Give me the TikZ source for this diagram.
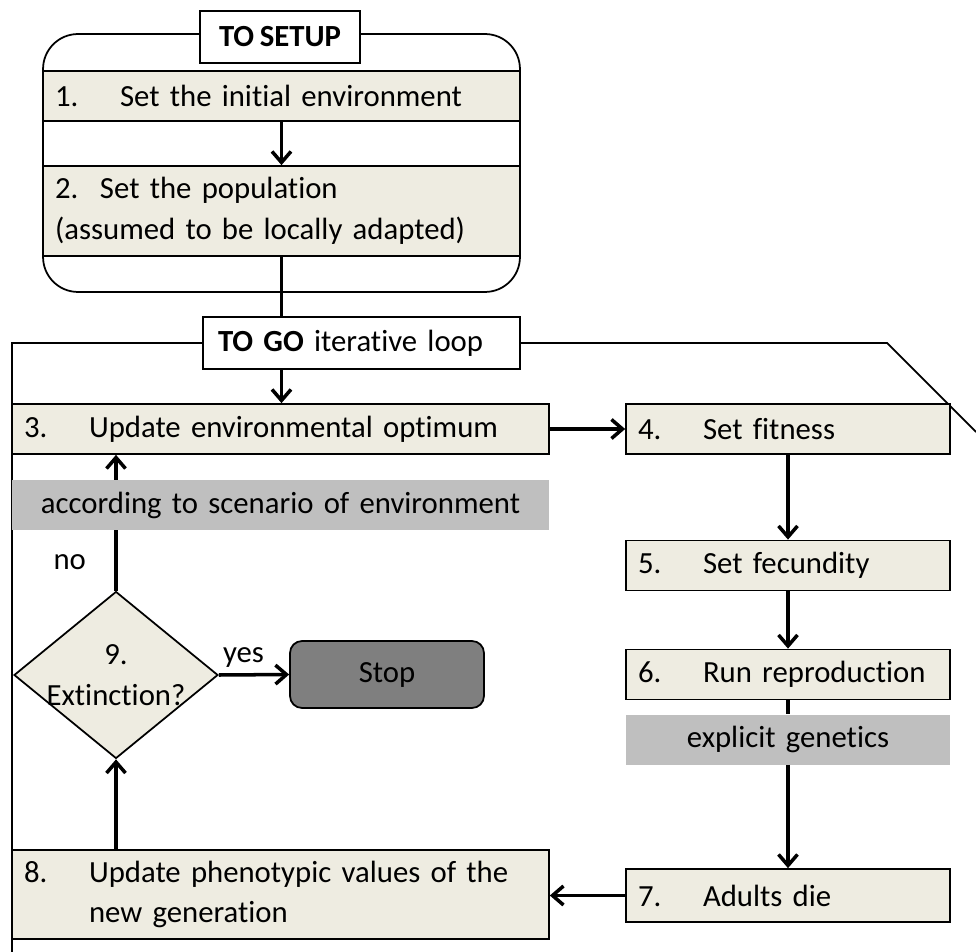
\documentclass[tikz,border=0pt]{standalone}
\usepackage{fontspec}
\setmainfont{Carlito}[Ligatures=NoCommon,WordSpace=0.8]
\usetikzlibrary{shapes.geometric,arrows.meta}

\definecolor{stepfill}{HTML}{EEECE1}
\definecolor{notegray}{HTML}{BFBFBF}
\definecolor{stopgray}{HTML}{7F7F7F}

\newcommand{\stepno}[2][1.3cm]{\makebox[#1][l]{#2}}

\tikzset{
    stepbox/.style={draw,fill=stepfill,line width=1pt,inner xsep=0.24cm,
        minimum height=1cm,text width=#1,align=left},
    notebox/.style={fill=notegray,inner xsep=0.24cm,minimum height=1cm,
        text width=#1,align=center},
    headbox/.style={draw,fill=white,line width=1pt,minimum height=1.04cm},
    flow/.style={->,line width=2pt},
    link/.style={line width=2pt},
    frameline/.style={line width=1pt}
}

\begin{document}
\begin{tikzpicture}[x=0.02cm,y=-0.02cm,
        >={Straight Barb[length=2.2mm,width=3.8mm]},
        every node/.style={font=\fontsize{17.5}{23}\selectfont}]
        \useasboundingbox (0,0) rectangle (976,952);

        % setup block
        \node[draw,line width=1pt,rounded corners=0.7cm,minimum width=9.54cm,
              minimum height=5.16cm] (setup) at (281.5,163) {};
        \node[headbox,minimum width=3.2cm] (tosetup) at (280,37) {\textbf{TO SETUP}};
        \node[stepbox=9.06cm] (s1) at (281.5,96) {\stepno{1.}Set the initial environment};
        \node[stepbox=9.06cm,minimum height=1.8cm] (s2) at (281.5,211)
              {\stepno[0.9cm]{2.}Set the population\\(assumed to be locally adapted)};
        \draw[flow] (s1) -- (s2);

        % go loop
        \node[headbox,inner xsep=0.3cm,text width=5.74cm,align=left] (togo) at (361.5,343)
              {\textbf{TO GO} iterative loop};
        \draw[link] (s2.south) -- (s2.south |- togo.north);
        \coordinate (loopbl) at (12,952);
        \coordinate (looptr) at (887,343);
        \coordinate (loopend) at (976,432);
        \draw[frameline] (togo.west) -- (loopbl |- togo.west) -- (loopbl);
        \draw[frameline] (togo.east) -- (looptr) -- (loopend);

        \node[stepbox=10.26cm] (s3) at (280.5,429) {\stepno{3.}Update environmental optimum};
        \draw[flow] (s2.south |- togo.south) -- (s2.south |- s3.north);

        \node[stepbox=6cm] (s4) at (788,429) {\stepno{4.}Set fitness};
        \node[stepbox=6cm] (s5) at (788,565.5) {\stepno{5.}Set fecundity};
        \node[stepbox=6cm] (s6) at (788,674.5) {\stepno{6.}Run reproduction};
        \node[notebox=6cm] (genet) at (788,739.5) {explicit genetics};
        \node[stepbox=6cm,minimum height=1.06cm] (s7) at (788,895.5) {\stepno{7.}Adults die};
        \node[stepbox=10.26cm,minimum height=1.78cm] (s8) at (280.5,894.5)
              {\stepno{8.}Update phenotypic values of the\\\hspace*{1.3cm}new generation};
        \draw[flow] (s3) -- (s4);
        \draw[flow] (s4) -- (s5);
        \draw[flow] (s5) -- (s6);
        \draw[link] (s6) -- (genet);
        \draw[flow] (genet) -- (s7);
        \draw[flow] (s7.west) -- (s7.west -| s8.east);

        % extinction test
        \node[diamond,draw,fill=stepfill,line width=1pt,aspect=1.22,inner xsep=-6pt,
              inner ysep=0pt,minimum width=4.08cm,minimum height=3.34cm,align=center]
              (ext) at (116,675) {9.\\Extinction?};
        \node[draw,fill=stopgray,line width=1pt,rounded corners=0.24cm,
              minimum width=3.88cm,minimum height=1.34cm] (stop) at (387,674.5) {Stop};
        \draw[flow] (ext.south |- s8.north) -- (ext.south);
        \draw[flow] (ext.east) -- node[above,pos=0.35] (yes) {yes} (stop.west);
        \draw[flow] (ext.north) -- node[left=0.45cm,pos=0.21] (no) {no} (ext.north |- s3.south);
        \node[notebox=10.26cm] (scen) at (280.5,505) {according to scenario of environment};
\end{tikzpicture}
\end{document}
